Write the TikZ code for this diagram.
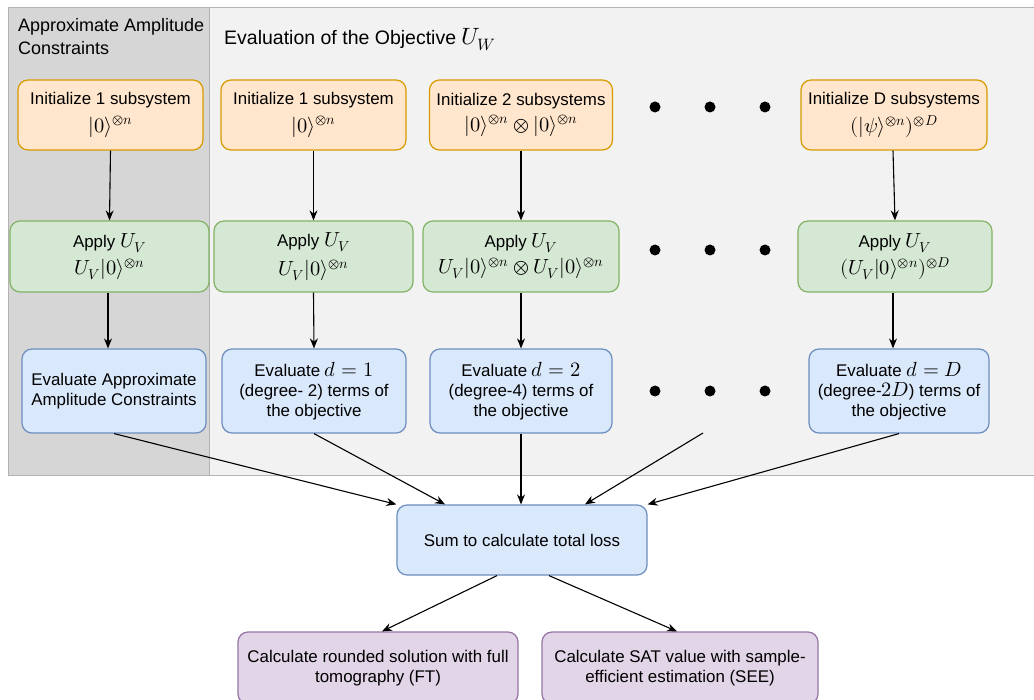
\documentclass[tikz,border=0pt]{standalone}
\usepackage{fontspec}
\usepackage{unicode-math}
\setmainfont{Liberation Sans}
\setmathfont{Latin Modern Math}[Scale=1.21]
\usepackage{tikz}
\usetikzlibrary{positioning,arrows.meta}
\tikzset{>={Stealth[length=10pt,width=8pt]}}

\definecolor{initfill}{HTML}{FFE6CC}
\definecolor{initdraw}{HTML}{D79B00}
\definecolor{applyfill}{HTML}{D5E8D4}
\definecolor{applydraw}{HTML}{82B366}
\definecolor{evalfill}{HTML}{DAE8FC}
\definecolor{evaldraw}{HTML}{6C8EBF}
\definecolor{outfill}{HTML}{E1D5E7}
\definecolor{outdraw}{HTML}{9673A6}
\definecolor{leftpanel}{HTML}{D6D6D6}
\definecolor{rightpanel}{HTML}{F2F2F2}
\definecolor{panelline}{HTML}{B3B3B3}

\begin{document}
\begin{tikzpicture}[x=1pt, y=-1pt, font=\fontsize{16.9}{20.3}\selectfont, text centered]
    \tikzset{%
      blk/.style={draw, rounded corners=10pt, line width=1.2pt, align=center, inner sep=2pt},
      init/.style={blk, fill=initfill, draw=initdraw, minimum height=70pt},
      apply/.style={blk, fill=applyfill, draw=applydraw, minimum height=71pt},
      evalu/.style={blk, fill=evalfill, draw=evaldraw, minimum height=84pt},
      outp/.style={blk, fill=outfill, draw=outdraw, minimum height=72pt},
      link/.style={->, line width=1.1pt},
      ttl/.style={inner sep=0pt}
      }
     \useasboundingbox (0,0) rectangle (1034,700);

     % panels
     \fill[rightpanel] (209,8) rectangle (1034,476);
     \draw[panelline, line width=1pt] (1034,8) -- (209,8) -- (209,476) -- (1034,476);
     \draw[fill=leftpanel, draw=panelline, line width=1pt] (8,8) rectangle (209,476);

     \node [ttl, anchor=north west, align=left, font=\fontsize{18}{23}\selectfont] (ttlAmp) at (18,18) {Approximate Amplitude\\Constraints};
     \node [ttl, anchor=base west, font=\fontsize{19.5}{23}\selectfont] (ttlObj) at (224,45) {Evaluation of the Objective $U_W$};

     \node [init, minimum width=185pt] (Ainit) at (110.5,115) {Initialize 1 subsystem\\[7pt] $|0\rangle^{\otimes n}$};
     \node [init, minimum width=185pt] (Binit) at (313.5,115) {Initialize 1 subsystem\\[7pt] $|0\rangle^{\otimes n}$};
     \node [init, minimum width=183pt] (Cinit) at (521,115) {Initialize 2 subsystems\\[5pt] $|0\rangle^{\otimes n}\otimes|0\rangle^{\otimes n}$};
     \node [init, minimum width=186pt] (Dinit) at (894,115) {Initialize D subsystems\\[7pt] $(|\psi\rangle^{\otimes n})^{\otimes D}$};

     \node [apply, minimum width=199pt] (Aapply) at (109.5,256.5) {Apply $U_V$\\[5pt] $U_V|0\rangle^{\otimes n}$};
     \node [apply, minimum width=199pt] (Bapply) at (313.5,256.5) {Apply $U_V$\\[7pt] $U_V|0\rangle^{\otimes n}$};
     \node [apply, minimum width=196pt] (Capply) at (521,256.5) {Apply $U_V$\\[4pt] $U_V|0\rangle^{\otimes n}\otimes U_V|0\rangle^{\otimes n}$};
     \node [apply, minimum width=194pt] (Dapply) at (895,256.5) {Apply $U_V$\\[4pt] $(U_V|0\rangle^{\otimes n})^{\otimes D}$};

     \node [evalu, minimum width=184pt] (Aeval) at (114,391) {Evaluate Approximate\\Amplitude Constraints};
     \node [evalu, minimum width=184pt] (Beval) at (314,391) {Evaluate $d=1$\\(degree- 2) terms of\\the objective};
     \node [evalu, minimum width=182pt] (Ceval) at (521,391) {Evaluate $d=2$\\(degree-4) terms of\\the objective};
     \node [evalu, minimum width=180pt] (Deval) at (899,391) {Evaluate $d=D$\\(degree-$2D$) terms of\\the objective};

     \foreach \y in {107,250,391}
       \foreach \x in {655,710,765}
         \fill (\x,\y) circle (5.5pt);
     \coordinate (dotsend) at (703,433);

     \node [evalu, minimum width=250pt, minimum height=70pt] (Sum) at (522,540) {Sum to calculate total loss};
     \node [outp, minimum width=280pt] (Fround) at (378,668) {Calculate rounded solution with full\\tomography (FT)};
     \node [outp, minimum width=276pt] (Fsat) at (680,668) {Calculate SAT value with sample-\\efficient estimation (SEE)};

     \draw [link] (Ainit.south) -- (Aapply.north);
     \draw [link] (Binit.south) -- (Bapply.north);
     \draw [link] (Cinit.south) -- (Capply.north);
     \draw [link] ([xshift=-1pt]Dinit.south) -- (Dapply.north);
     \draw [link] ([xshift=-1.5pt]Aapply.south) -- ([xshift=-1.5pt]Aapply.south |- Aeval.north);
     \draw [link] (Bapply.south) -- (Beval.north);
     \draw [link] (Capply.south) -- (Ceval.north);
     \draw [link] ([xshift=-2pt]Dapply.south) -- ([xshift=-2pt]Dapply.south |- Deval.north);

     \draw [link] (Aeval.south) -- (Sum.north west);
     \draw [link] (Beval.south) -- ([xshift=-77pt]Sum.north);
     \draw [link] (Ceval.south) -- ([xshift=-1pt]Sum.north);
     \draw [link] (dotsend) -- ([xshift=63pt]Sum.north);
     \draw [link] (Deval.south) -- (Sum.north east);

     \draw [link] ([xshift=-25pt]Sum.south) -- ([xshift=4pt]Fround.north);
     \draw [link] ([xshift=27pt]Sum.south) -- ([xshift=-3pt]Fsat.north);
  \end{tikzpicture}
\end{document}
